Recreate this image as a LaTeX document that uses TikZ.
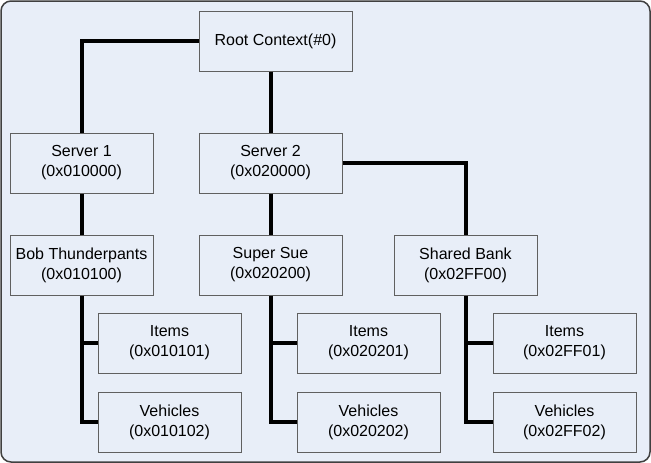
\documentclass[tikz,border=0pt]{standalone}
\usepackage{fontspec}
\setmainfont{Liberation Sans}
\definecolor{bgcol}{HTML}{E8EEF8}
\definecolor{boxline}{HTML}{606060}
\definecolor{frameline}{HTML}{404040}
\tikzset{
  ctxbox/.style={draw=boxline, line width=1pt, fill=bgcol, minimum width=143pt, minimum height=60pt,
    align=center, inner sep=0pt, font=\fontsize{16}{20}\selectfont},
  conn/.style={line width=4pt, draw=black, line join=miter}
}
\begin{document}
\begin{tikzpicture}[x=1pt,y=-1pt]
\useasboundingbox (0,0) rectangle (651,463);
\draw[rounded corners=10pt, line width=1.5pt, draw=frameline, fill=bgcol] (1,1) rectangle (650,462);
\node[ctxbox, minimum width=153pt] (root) at (275.5,41) {Root Context(\#0)};
\node[ctxbox] (s1) at (81.5,163) {Server 1\\(0x010000)};
\node[ctxbox] (s2) at (270.5,163) {Server 2\\(0x020000)};
\node[ctxbox] (bob) at (81.5,265) {Bob Thunderpants\\(0x010100)};
\node[ctxbox] (sue) at (270.5,265) {Super Sue\\(0x020200)};
\node[ctxbox] (sb) at (465.5,265) {Shared Bank\\(0x02FF00)};
\node[ctxbox] (i1) at (169.5,343) {Items\\(0x010101)};
\node[ctxbox] (v1) at (169.5,422) {Vehicles\\(0x010102)};
\node[ctxbox] (i2) at (368.5,343) {Items\\(0x020201)};
\node[ctxbox] (v2) at (368.5,422) {Vehicles\\(0x020202)};
\node[ctxbox] (i3) at (564.5,343) {Items\\(0x02FF01)};
\node[ctxbox] (v3) at (564.5,422) {Vehicles\\(0x02FF02)};
\draw[conn] (root.west) -| (s1.north);
\draw[conn] (root.south -| s2) -- (s2.north);
\draw[conn] (s2.east) -| (sb.north);
\draw[conn] (s1) -- (bob);
\draw[conn] (s2) -- (sue);
\draw[conn] (bob.south) |- (v1.west);
\draw[conn] (bob.south |- i1.west) -- (i1.west);
\draw[conn] (sue.south) |- (v2.west);
\draw[conn] (sue.south |- i2.west) -- (i2.west);
\draw[conn] (sb.south) |- (v3.west);
\draw[conn] (sb.south |- i3.west) -- (i3.west);
\end{tikzpicture}
\end{document}
